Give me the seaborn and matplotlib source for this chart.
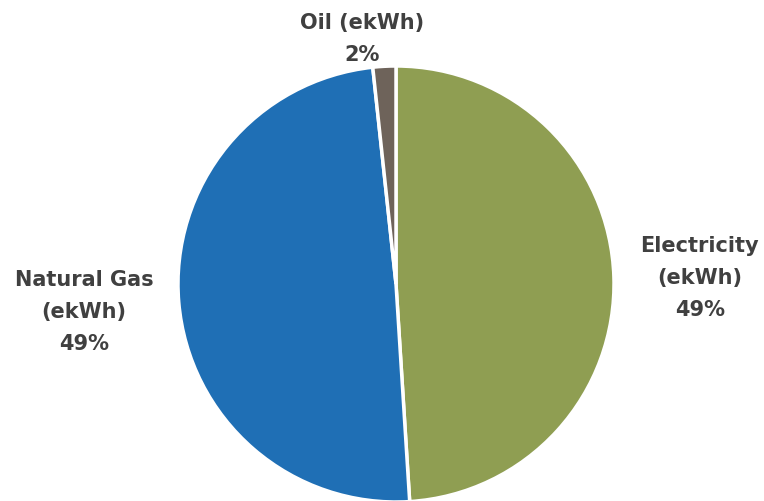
import matplotlib
matplotlib.use("Agg")
import matplotlib.pyplot as plt
import seaborn as sns

# energy use split (share of total, ekWh)
categories = ["Electricity", "Natural Gas", "Oil"]
values = [49.0, 49.3, 1.7]
colors = ["#8F9E52", "#1F6FB5", "#6E635A"]

sns.set_theme(style="white")
plt.rcParams["font.family"] = ["DejaVu Sans"]

fig = plt.figure(figsize=(7.64, 5.02), dpi=100)
# pie centre ~ (396, 285) px, radius ~218 px
ax = fig.add_axes([(396 - 218) / 764, (502 - 285 - 218) / 502, 436 / 764, 436 / 502])

ax.pie(values, colors=sns.color_palette(colors), startangle=90, counterclock=False,
       radius=1, wedgeprops=dict(edgecolor="white", linewidth=2.5))
# pie() resets the limits, so set them afterwards
ax.set_xlim(-1, 1)
ax.set_ylim(-1, 1)
ax.set_aspect("equal")
ax.axis("off")

total = sum(values)
label_pos = {
    "Electricity": (1.394, 0.032, "Electricity\n(ekWh)"),
    "Natural Gas": (-1.431, -0.124, "Natural Gas\n(ekWh)"),
    "Oil": (-0.156, 1.128, "Oil (ekWh)"),
}
for cat, v in zip(categories, values):
    x, y, name = label_pos[cat]
    ax.text(x, y, f"{name}\n{v / total * 100:.0f}%", ha="center", va="center",
            fontsize=15, fontweight="bold", color="#404040", linespacing=1.75,
            clip_on=False)

fig.savefig("out.png", dpi=100)
